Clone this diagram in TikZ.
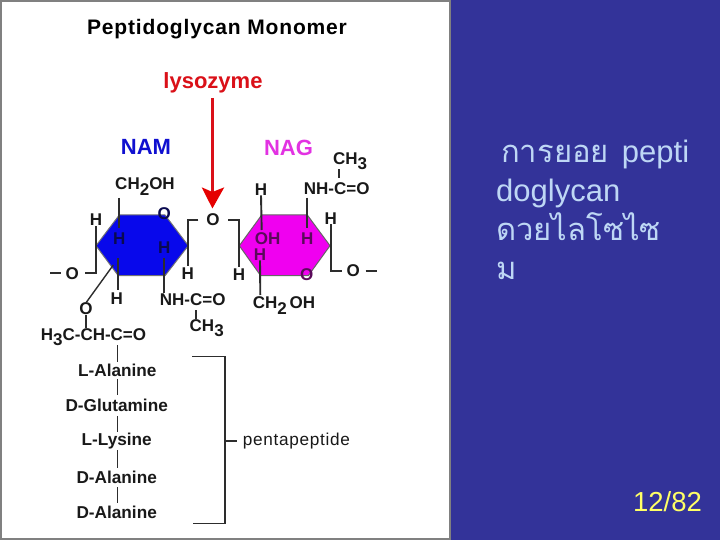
\documentclass[tikz,border=0pt]{standalone}
\usepackage{fontspec}
\setmainfont{Liberation Sans}
\newfontfamily\thaifont[Script=Thai]{Loma}
\newfontfamily\spacedfont[LetterSpace=4]{Liberation Sans}
\usetikzlibrary{arrows.meta}
\newcommand{\lowd}[1]{\raisebox{-.32em}{#1}}
\definecolor{slidebg}{RGB}{51,51,153}
\definecolor{framegray}{RGB}{128,128,128}
\definecolor{slidetext}{RGB}{190,215,245}
\definecolor{pagenum}{RGB}{255,255,102}
\definecolor{redc}{RGB}{218,16,24}
\definecolor{namblue}{RGB}{16,16,208}
\definecolor{nagpink}{RGB}{226,50,226}
\definecolor{bond}{RGB}{45,45,45}
\definecolor{onblue}{RGB}{10,10,80}
\definecolor{onpink}{RGB}{90,10,90}
\tikzset{
  atom/.style={inner sep=0pt,font=\fontsize{17}{17}\selectfont\bfseries,text=black!90},
  peptide/.style={inner sep=0pt,font=\fontsize{17.2}{17.2}\selectfont\bfseries,text=black!90},
  inblue/.style={atom,text=onblue},
  inpink/.style={atom,text=onpink},
  bondline/.style={draw=bond,line width=1.9pt},
  thinbond/.style={draw=bond,line width=1.4pt},
  ring/.style={line width=1pt,line join=round},
  slidenote/.style={inner sep=0pt,text=slidetext,font=\fontsize{31}{39}\selectfont}
}
\begin{document}
\begin{tikzpicture}[x=1pt,y=-1pt]
\useasboundingbox (0,0) rectangle (720,540);
\fill[slidebg] (0,0) rectangle (720,540);
\fill[white,draw=framegray,line width=2pt] (1,1) rectangle (449.5,538.5);

% titles
\node[inner sep=0pt,font=\fontsize{21}{21}\spacedfont\bfseries] (title) at (217,29) {Peptidoglycan Monomer};
\node[inner sep=0pt,text=redc,font=\fontsize{22}{22}\selectfont\bfseries] (lyso) at (213,83) {lysozyme};
\node[inner sep=0pt,text=namblue,font=\fontsize{22}{22}\selectfont\bfseries] (nam) at (146,146.5) {NAM};
\node[inner sep=0pt,text=nagpink,font=\fontsize{22}{22}\selectfont\bfseries] (nag) at (288.5,147.5) {NAG};

% ring vertices
\coordinate (a1) at (96,245.7); \coordinate (a2) at (119.3,215); \coordinate (a3) at (165,215);
\coordinate (a4) at (188.3,245.7); \coordinate (a5) at (165,275.7); \coordinate (a6) at (118.3,275.7);
\coordinate (b1) at (239.3,245.7); \coordinate (b2) at (261.7,215); \coordinate (b3) at (307.3,215);
\coordinate (b4) at (330,245.7); \coordinate (b5) at (308.3,275.7); \coordinate (b6) at (260.7,275.7);
\filldraw[ring,draw=black!55,fill={rgb,255:red,8;green,8;blue,235}] (a1)--(a2)--(a3)--(a4)--(a5)--(a6)--cycle;
\filldraw[ring,draw=black!60,fill={rgb,255:red,240;green,0;blue,240}] (b1)--(b2)--(b3)--(b4)--(b5)--(b6)--cycle;

% lysozyme arrow
\node[atom] (obr) at (213,220) {O};
\coordinate (tip) at (212.4,208.5);
\coordinate (arrowstart) at (212.4,98);
\draw[redc,line width=2.8pt] (arrowstart) -- (212.4,195);
\fill[red!90!black] (tip) -- (201.7,187.3) -- (212.4,192) -- (224.3,187.3) -- cycle;

% NAM atoms
\node[atom] (nch) at (145,186.5) {CH\lowd{2}OH};
\node[inblue] (no) at (164.3,213.5) {O};
\node[atom] (nh1) at (96,220) {H};
\node[inblue] (nh2) at (119.3,239) {H};
\node[inblue] (nh3) at (164.3,247.3) {H};
\node[atom] (nh4) at (187.7,274) {H};
\node[atom] (nh5) at (116.7,298.3) {H};
\node[atom] (nol) at (72.3,274) {O};
\node[atom] (nnh) at (192.7,300) {NH-C=O};
\node[atom] (nme) at (206.7,328) {CH\lowd{3}};
\node[atom] (nox) at (86,309) {O};
\node[atom] (nla) at (93.5,337) {H\lowd{3}C-CH-C=O};
\coordinate (noldash) at (50,273.3);

\draw[bondline] (119.3,198) -- (119.3,228);
\draw[bondline] (nh1.south) -- (a1) -- (96,273.3) -- (85,273.3);
\draw[bondline] (60.7,273.3) -- (noldash);
\draw[bondline] (164.3,258) -- (164.3,293);
\draw[bondline] (196,310) -- (196,319);
\draw[bondline] (198.3,220) -- (187.7,220) -- (187.7,266);
\draw[bondline] (118,258) -- (118,290);
\draw[thinbond] (113.3,265) -- (nox.north);
\draw[thinbond] (nox.south) -- (86,328);

% NAG atoms
\node[atom] (gh1) at (261,189.3) {H};
\node[inpink] (goh) at (267.7,239) {OH};
\node[inpink] (gh2) at (260,254.3) {H};
\node[atom] (gch) at (284,305.5) {CH\lowd{2}\,OH};
\node[atom] (gnh) at (336.7,188.3) {NH-C=O};
\node[inpink] (gh3) at (307.3,238.3) {H};
\node[atom] (gme) at (350,161) {CH\lowd{3}};
\node[atom] (gh4) at (330.7,218.3) {H};
\node[atom] (gor) at (353.3,271) {O};
\node[atom] (gh5) at (239,274.3) {H};
\node[inpink] (go) at (306.7,275) {O};
\coordinate (gordash) at (376.7,270.7);

\draw[bondline] (gh1.south) -- (261.7,230);
\draw[bondline] (gh2.south) -- (260.3,295);
\draw[bondline] (307.3,197.7) -- (307.3,228);
\draw[bondline] (339.3,169.5) -- (339.3,178.5);
\draw[bondline] (gh4.south) -- (330.7,270.7) -- (341.7,270.7);
\draw[bondline] (365.7,270.7) -- (gordash);
\draw[bondline] (228.3,220) -- (239.3,220) -- (239.3,266.7);

% peptide chain
\node[peptide] (p1) at (117.3,370) {L-Alanine};
\node[peptide] (p2) at (116.7,405) {D-Glutamine};
\node[peptide] (p3) at (116.7,440.7) {L-Lysine};
\node[peptide] (p4) at (116.7,477.3) {D-Alanine};
\node[peptide] (p5) at (116.7,512.3) {D-Alanine};
\draw[thinbond] (117.3,345) -- (117.3,362);
\draw[thinbond] (117.3,379) -- (117.3,395);
\draw[thinbond] (117.3,416) -- (117.3,432);
\draw[thinbond] (117.3,450) -- (117.3,468);
\draw[thinbond] (117.3,487) -- (117.3,503);

% bracket
\node[inner sep=0pt,anchor=west,font=\fontsize{17.2}{17.2}\spacedfont,text=black!90] (penta) at (242.7,441.3) {pentapeptide};
\coordinate (bt) at (192.3,356.7); \coordinate (bb) at (193.3,523.7);
\draw[thinbond] (bt) -- (225,356.7) -- (225,523.7) -- (bb);
\draw[bondline] (225,441.3) -- (237.3,441.3);

% slide text
\node[slidenote,anchor=north west,align=left] (note) at (496,140) {\hspace*{5pt}{\thaifont การยอย}\hspace{13pt}pepti\\doglycan\\{\thaifont ดวยไลโซไซ}\\{\thaifont ม}};
\node[inner sep=0pt,text=pagenum,font=\fontsize{27.5}{28}\selectfont] (page) at (667.5,502) {12/82};
\end{tikzpicture}
\end{document}
